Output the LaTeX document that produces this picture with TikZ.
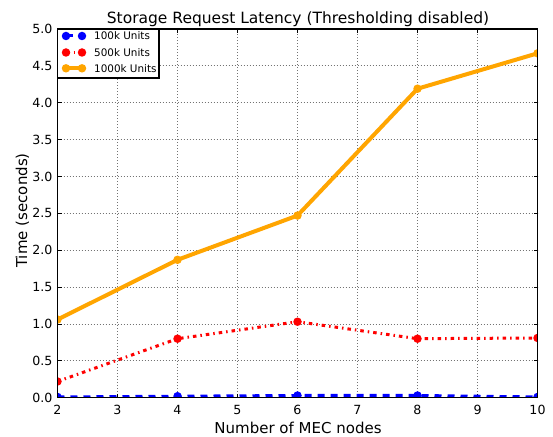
\documentclass[tikz,border=0pt]{standalone}
\usepackage{fontspec}
\setmainfont{DejaVu Sans}
\definecolor{mblue}{RGB}{0,0,255}
\definecolor{mred}{RGB}{255,0,0}
\definecolor{morange}{RGB}{255,165,0}
\tikzset{
  gridline/.style={black!55, line width=0.8pt, dash pattern=on 0.8pt off 2.2pt},
  frame/.style={black, line width=1.1pt},
  tickmark/.style={black, line width=0.7pt},
  ticklabel/.style={font=\fontsize{12.6}{14}\selectfont, inner sep=0pt},
  bluepath/.style={mblue, line width=3pt, dash pattern=on 7pt off 6pt},
  redpath/.style={mred, line width=3pt, dash pattern=on 3.5pt off 4pt on 1.5pt off 4pt},
  orangepath/.style={morange, line width=4pt},
  mk/.style={circle, inner sep=0pt, minimum size=8.5pt, fill=#1, draw=none},
  legtext/.style={font=\fontsize{10.4}{12}\selectfont, anchor=west, inner sep=0pt}
}
\begin{document}
\begin{tikzpicture}[x=1pt,y=1pt]
\useasboundingbox[fill=white] (0,0) rectangle (553,436);
\begin{scope}[x=60pt, y=73.74pt, shift={(-62.5pt,38.3pt)}]
  % grid
  \foreach \i in {3,...,9} \draw[gridline] (\i,0) -- (\i,5);
  \foreach \j in {0.5,1.0,...,4.5} \draw[gridline] (2,\j) -- (10,\j);
  % ticks
  \foreach \i in {2,...,10} {
    \draw[tickmark] (\i,0) -- ++(0,4pt);
    \draw[tickmark] (\i,5) -- ++(0,-4pt);
    \node[ticklabel, anchor=north] (xt\i) at ([yshift=-7.3pt]\i,0) {\i};
  }
  \foreach \j in {0.0,0.5,...,5.0} {
    \draw[tickmark] (2,\j) -- ++(4pt,0);
    \draw[tickmark] (10,\j) -- ++(-4pt,0);
  }
  \foreach \j/\t in {0/0.0,0.5/0.5,1/1.0,1.5/1.5,2/2.0,2.5/2.5,3/3.0,3.5/3.5,4/4.0,4.5/4.5,5/5.0}
    \node[ticklabel, anchor=east] (yt\j) at ([xshift=-5pt]2,\j) {\t};
  % data, clipped to axes
  \begin{scope}
    \clip (2,0) rectangle (10,5);
    \foreach \n/\x/\y in {a2/2/0.01,a4/4/0.02,a6/6/0.03,a8/8/0.03,a10/10/0.01}
      \node[mk=mblue] (\n) at (\x,\y) {};
    \foreach \n/\x/\y in {b2/2/0.22,b4/4/0.80,b6/6/1.03,b8/8/0.80,b10/10/0.81}
      \node[mk=mred] (\n) at (\x,\y) {};
    \foreach \n/\x/\y in {c2/2/1.06,c4/4/1.87,c6/6/2.47,c8/8/4.19,c10/10/4.67}
      \node[mk=morange] (\n) at (\x,\y) {};
    \draw[bluepath] (a2.center) -- (a4.center) -- (a6.center) -- (a8.center) -- (a10.center);
    \draw[redpath] (b2.center) -- (b4.center) -- (b6.center) -- (b8.center) -- (b10.center);
    \draw[orangepath] (c2.center) -- (c4.center) -- (c6.center) -- (c8.center) -- (c10.center);
  \end{scope}
  % frame
  \draw[frame] (2,0) rectangle (10,5);
\end{scope}
% legend
\draw[black, line width=1.1pt, fill=white] (57.5,358) rectangle (159,407);
\node[mk=mblue] (la1) at (66,400) {};
\node[mk=mblue] (la2) at (82,400) {};
\draw[mblue, line width=3pt, dash pattern=on 7pt off 6pt] (la1.center) -- (la2.center);
\node[legtext] (lta) at (94,400) {100k Units};
\node[mk=mred] (lb1) at (66,383.5) {};
\node[mk=mred] (lb2) at (82,383.5) {};
\draw[mred, line width=3pt, dash pattern=on 3.5pt off 4pt on 1.5pt off 4pt] (lb1.center) -- (lb2.center);
\node[legtext] (ltb) at (94,383.5) {500k Units};
\node[mk=morange] (lc1) at (66,367.7) {};
\node[mk=morange] (lc2) at (82,367.7) {};
\draw[morange, line width=4pt] (lc1.center) -- (lc2.center);
\node[legtext] (ltc) at (94,367.7) {1000k Units};
% title and labels
\node[font=\fontsize{15.5}{18}\selectfont, anchor=base, inner sep=0pt] (title) at (298,412.7) {Storage Request Latency (Thresholding disabled)};
\node[font=\fontsize{15}{18}\selectfont, anchor=base, inner sep=0pt] (xl) at (298,2.9) {Number of MEC nodes};
\node[font=\fontsize{15}{18}\selectfont, rotate=90, anchor=base, inner sep=0pt] (yl) at (27,225.5) {Time (seconds)};
\end{tikzpicture}
\end{document}
